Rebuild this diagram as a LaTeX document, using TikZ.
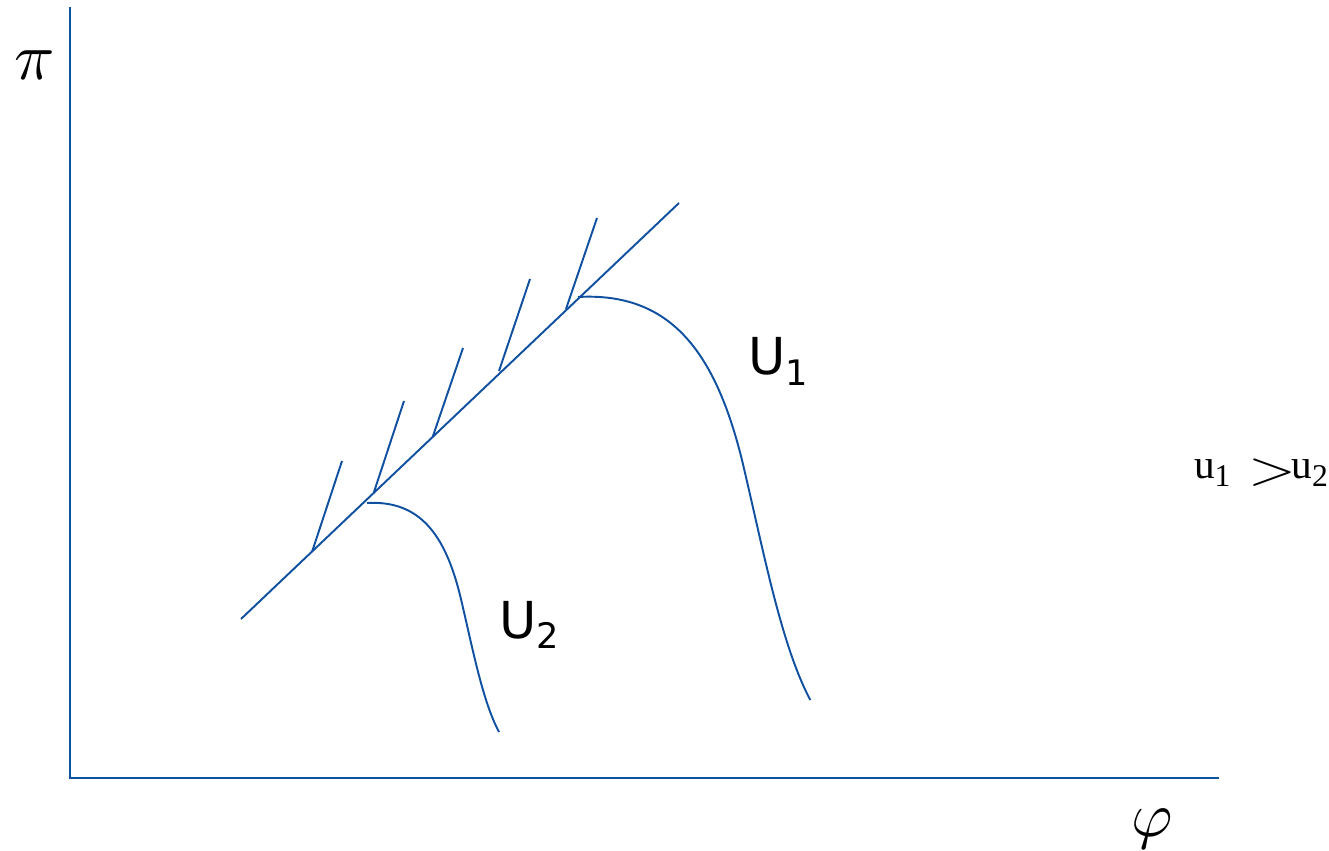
\documentclass[tikz,border=0pt]{standalone}
\usepackage{graphicx}
\usepackage{fontspec}
\newfontfamily\verdfont{DejaVu Sans}
\newfontfamily\tnrfont{Liberation Serif}
\definecolor{lineblue}{RGB}{16,80,160}
\begin{document}
\begin{tikzpicture}[x=0.02cm,y=-0.02cm,
  curve/.style={draw=lineblue,line width=1.1pt},
  axis/.style={draw=lineblue,line width=1.2pt},
  lbl/.style={inner sep=0pt,outer sep=0pt,anchor=base west}]
\useasboundingbox (0,0) rectangle (1329,851);
% axes
\coordinate (ytop) at (70,7);
\coordinate (orig) at (70,778);
\coordinate (xend) at (1219,778);
\draw[axis] (ytop) -- (orig) -- (xend);
\node[lbl] (pi) at (14,80) {\scalebox{3.8}{$\pi$}};
\node[lbl] (phi) at (1131,836) {\scalebox{3.6}{$\varphi$}};
% diagonal boundary line
\coordinate (d0) at (241,619);
\coordinate (d1) at (679,203);
\draw[curve] (d0) -- (d1);
% hatches
\coordinate (h1a) at (312,552); \coordinate (h1b) at (342,461);
\coordinate (h2a) at (374,492); \coordinate (h2b) at (404,401);
\coordinate (h3a) at (433,436); \coordinate (h3b) at (463,348);
\coordinate (h4a) at (499,371); \coordinate (h4b) at (530,279);
\coordinate (h5a) at (566,309); \coordinate (h5b) at (597,218);
\foreach \i in {1,...,5} {\draw[curve] (h\i a) -- (h\i b);}
% U2 curve
\coordinate (u2s) at (367,503);
\coordinate (u2m) at (460,595);
\coordinate (u2e) at (499,732);
\draw[curve] (u2s) .. controls (420,500) and (445,535) .. (u2m)
   .. controls (472,645) and (482,700) .. (u2e);
% U1 curve
\coordinate (u1s) at (578,297);
\coordinate (u1m) at (741.7,458.9);
\coordinate (u1e) at (810.3,700);
\draw[curve] (u1s) .. controls (671.3,291.7) and (715.3,353.3) .. (u1m)
   .. controls (762.8,546.9) and (780.4,643.7) .. (u1e);
% labels
\node[lbl] (U1) at (748,375) {\verdfont\fontsize{29}{29}\selectfont U\raisebox{-5.7pt}{\fontsize{20}{20}\selectfont 1}};
\node[lbl] (U2) at (499,638) {\verdfont\fontsize{29}{29}\selectfont U\raisebox{-5.7pt}{\fontsize{20}{20}\selectfont 2}};
\node[lbl] (ineq) at (1194,478) {\fontsize{23.5}{23.5}\selectfont\tnrfont u\raisebox{-5pt}{\fontsize{18}{18}\selectfont 1}\hspace{10pt}\raisebox{-3.5pt}{\scalebox{3.5}[2.7]{\normalsize$>$}}\hspace{-2.5pt}u\raisebox{-5pt}{\fontsize{18}{18}\selectfont 2}};
\end{tikzpicture}
\end{document}
